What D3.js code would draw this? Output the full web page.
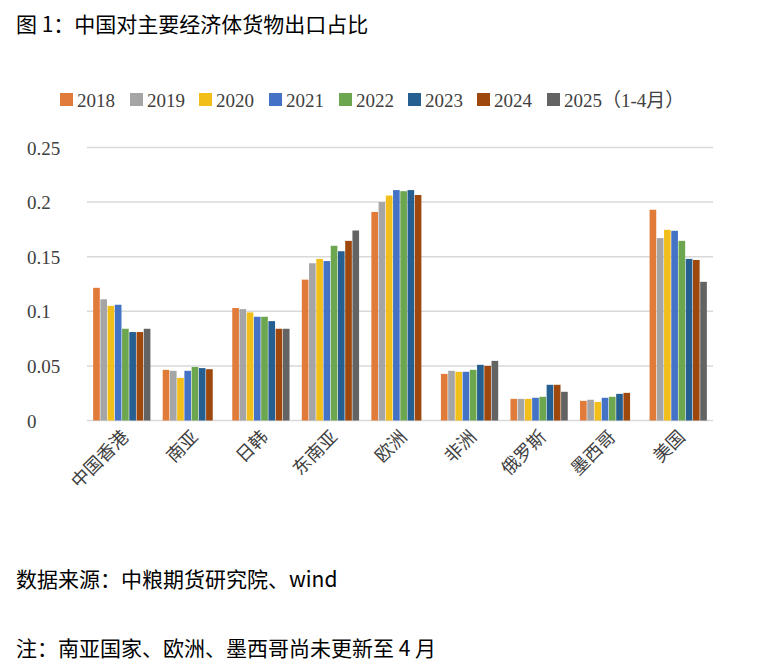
<!DOCTYPE html>
<html><head><meta charset="utf-8">
<script src="https://cdn.jsdelivr.net/npm/d3@7"></script>
<style>
body{margin:0;background:#fff;font-family:"Liberation Serif","Noto Sans CJK SC",serif;}
</style></head>
<body><svg id="c" width="757" height="665"></svg>
<script>
const categories = ["中国香港","南亚","日韩","东南亚","欧洲","非洲","俄罗斯","墨西哥","美国"];
const years = ["2018","2019","2020","2021","2022","2023","2024","2025（1-4月）"];
const colors = ["#e07b39","#a5a5a5","#f2be1a","#4472c4","#6ca64f","#255e91","#9e480e","#636363"];
// values per year, in category order (null = not yet updated)
const v2018 = [0.1215,0.0464,0.103,0.129,0.191,0.0427,0.0198,0.018,0.193];
const v2019 = [0.111,0.0455,0.102,0.144,0.200,0.0455,0.0198,0.019,0.167];
const v2020 = [0.105,0.039,0.099,0.148,0.206,0.0446,0.0198,0.017,0.1746];
const v2021 = [0.106,0.0455,0.095,0.146,0.211,0.0446,0.0208,0.0208,0.1737];
const v2022 = [0.084,0.049,0.095,0.160,0.210,0.0464,0.0217,0.0217,0.1645];
const v2023 = [0.081,0.048,0.091,0.155,0.211,0.051,0.0327,0.0244,0.148];
const v2024 = [0.081,0.047,0.084,0.1645,0.2065,0.050,0.0327,0.0253,0.147];
const v2025 = [0.084,null,0.084,0.174,null,0.0546,0.0263,null,0.127];
const series = [v2018,v2019,v2020,v2021,v2022,v2023,v2024,v2025];
const yTicks = [0,0.05,0.1,0.15,0.2,0.25];

const svg = d3.select("#c");
svg.append("text").attr("x",16).attr("y",32).attr("font-size",21)
  .attr("font-family","'Noto Sans CJK SC',sans-serif").text("图 1：中国对主要经济体货物出口占比");

const x = d3.scaleBand().domain(categories).range([87,713]).paddingInner(0.16).paddingOuter(0.08);
const xs = d3.scaleBand().domain(d3.range(years.length)).range([0,x.bandwidth()]).padding(0.08);
const y = d3.scaleLinear().domain([0,0.25]).range([420.5,147.5]);

svg.append("g").selectAll("line").data(yTicks).join("line")
  .attr("x1",87).attr("x2",713).attr("y1",d=>y(d)).attr("y2",d=>y(d))
  .attr("stroke","#d9d9d9").attr("stroke-width",1.5);
svg.append("g").selectAll("text").data(yTicks).join("text")
  .attr("x",27).attr("y",d=>y(d)+7).attr("font-size",19).attr("fill","#404040")
  .text(d=>d===0?"0":String(d));

const g = svg.append("g");
categories.forEach((c,ci)=>{
  series.forEach((s,si)=>{
    if(s[ci]==null) return;
    g.append("rect").attr("x",x(c)+xs(si)).attr("width",xs.bandwidth())
      .attr("y",y(s[ci])).attr("height",y(0)-y(s[ci])).attr("fill",colors[si]);
  });
});

svg.append("g").selectAll("text").data(categories).join("text")
  .attr("transform",d=>`translate(${x(d)+x.bandwidth()/2+8},${438}) rotate(-45)`)
  .attr("text-anchor","end").attr("font-size",18).attr("fill","#404040")
  .attr("font-family","'Noto Sans CJK SC',sans-serif").text(d=>d);

// legend
const lx = [60,130,199,269,339,408,477,547];
const lg = svg.append("g").selectAll("g").data(years).join("g")
  .attr("transform",(d,i)=>`translate(${lx[i]},93)`);
lg.append("rect").attr("width",13).attr("height",13).attr("fill",(d,i)=>colors[i]);
lg.append("text").attr("x",17).attr("y",14).attr("font-size",19).attr("fill","#404040")
  .attr("font-family","'Liberation Serif','Noto Sans CJK SC',serif").text(d=>d);

svg.append("text").attr("x",16).attr("y",587).attr("font-size",21)
  .attr("font-family","'Noto Sans CJK SC',sans-serif").text("数据来源：中粮期货研究院、wind");
svg.append("text").attr("x",16).attr("y",656).attr("font-size",21)
  .attr("font-family","'Noto Sans CJK SC',sans-serif").text("注：南亚国家、欧洲、墨西哥尚未更新至 4 月");
</script></body></html>
